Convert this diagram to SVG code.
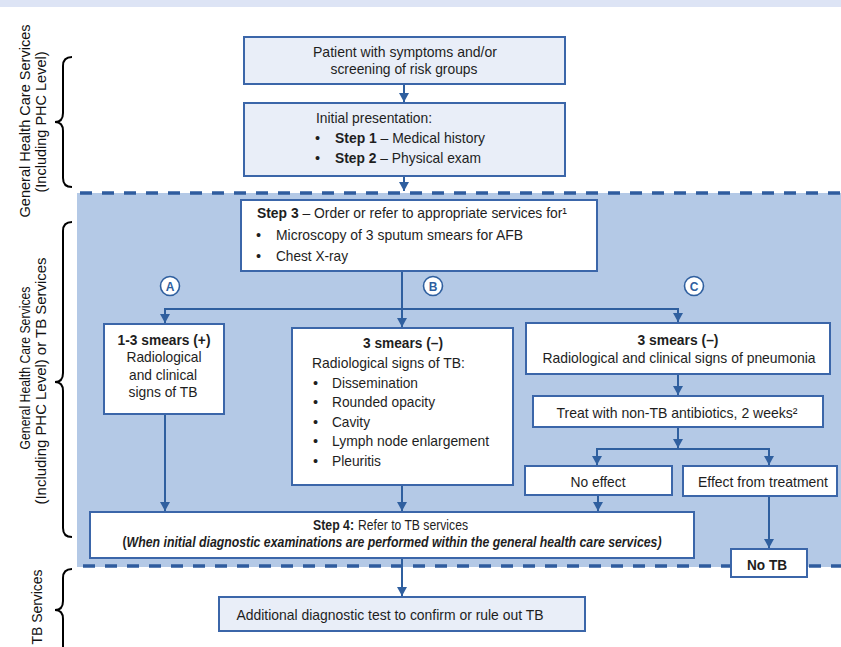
<svg xmlns="http://www.w3.org/2000/svg" width="841" height="647" viewBox="0 0 841 647">
<defs>
<marker id="ah" markerUnits="userSpaceOnUse" markerWidth="12" markerHeight="12" refX="9" refY="5" orient="auto">
<path d="M0,0 L9,5 L0,10 z" fill="#2f5f9f"/>
</marker>
<style>
.box{fill:#ffffff;stroke:#3b66a9;stroke-width:2}
.lbox{fill:#e9eef8;stroke:#3b66a9;stroke-width:2}
.t{font-family:"Liberation Sans Narrow","Liberation Sans",Arial,sans-serif;font-size:14.5px;fill:#1e1e1e}
.c{text-anchor:middle}
.b{font-weight:bold}
.side{font-family:"Liberation Sans",Arial,sans-serif;font-size:14px;fill:#111;text-anchor:middle}
.con{stroke:#2f5f9f;stroke-width:2;fill:none}
.arr{marker-end:url(#ah)}
.dash{stroke:#2f5c9e;stroke-width:3.5;stroke-dasharray:12,10;fill:none}
.brace{stroke:#000;stroke-width:2;fill:none}
.circ{fill:#ffffff;stroke:#2f5f9f;stroke-width:1.6}
.cl{font-family:"Liberation Sans Narrow","Liberation Sans",Arial,sans-serif;font-size:12px;font-weight:bold;fill:#2f5f9f;text-anchor:middle}
</style>
</defs>
<rect width="841" height="647" fill="#ffffff"/>
<rect x="0" y="0" width="841" height="7" fill="#dde4f5"/>
<rect x="77" y="193" width="764" height="374" fill="#b4c9e6"/>
<path class="dash" d="M80,193 L841,193"/>
<path class="dash" d="M83,566 L841,566"/>

<g id="side-labels">
<path class="brace" d="M72,57 Q63,57 63,66 L63,113 Q63,122 55,122 Q63,122 63,131 L63,178 Q63,187 72,187"/>
<text class="side" transform="translate(30,121) rotate(-90)" textLength="193" lengthAdjust="spacingAndGlyphs">General Health Care Services</text>
<text class="side" transform="translate(46,122) rotate(-90)" textLength="141" lengthAdjust="spacingAndGlyphs">(Including PHC Level)</text>
<path class="brace" d="M72,222 Q63,222 63,231 L63,373 Q63,382 55,382 Q63,382 63,391 L63,528 Q63,537 72,537"/>
<text class="side" transform="translate(30,368) rotate(-90)" textLength="163" lengthAdjust="spacingAndGlyphs">General Health Care Services</text>
<text class="side" transform="translate(46,381) rotate(-90)" textLength="247" lengthAdjust="spacingAndGlyphs">(Including  PHC Level)  or TB Services</text>
<path class="brace" d="M72,569 Q63,569 63,578 L63,601 Q63,610 55,610 Q63,610 63,619 L63,660"/>
<text class="side" transform="translate(42,607) rotate(-90)" textLength="75" lengthAdjust="spacingAndGlyphs">TB Services</text>
</g>

<g id="connectors">
<path class="con arr" d="M404,84 L404,102"/>
<path class="con arr" d="M404,176 L404,191"/>
<path class="con arr" d="M402,271 L402,327"/>
<path class="con" d="M164,309 L678,309"/>
<path class="con arr" d="M165,308 L165,323"/>
<path class="con arr" d="M678,308 L678,322"/>
<path class="con arr" d="M165,414 L165,511"/>
<path class="con arr" d="M402,485 L402,511"/>
<path class="con arr" d="M678,374 L678,395"/>
<path class="con arr" d="M678,427 L678,448"/>
<path class="con" d="M597,449 L769,449"/>
<path class="con arr" d="M597,448 L597,465"/>
<path class="con arr" d="M769,448 L769,465"/>
<path class="con arr" d="M598,495 L598,511"/>
<path class="con arr" d="M769,496 L769,548"/>
<path class="con arr" d="M402,558 L402,596"/>
</g>

<g id="labelA"><circle class="circ" cx="170" cy="286" r="9.5"/><text class="cl" x="170" y="290.5">A</text></g>
<g id="labelB"><circle class="circ" cx="433" cy="286" r="9.5"/><text class="cl" x="433" y="290.5">B</text></g>
<g id="labelC"><circle class="circ" cx="694" cy="286" r="9.5"/><text class="cl" x="694" y="290.5">C</text></g>

<g id="patient">
<rect class="lbox" x="244" y="37" width="321" height="47"/>
<text class="t c" x="405" y="57" textLength="184" lengthAdjust="spacingAndGlyphs">Patient with symptoms and/or</text>
<text class="t c" x="404" y="74" textLength="147" lengthAdjust="spacingAndGlyphs">screening of risk groups</text>
</g>

<g id="initial">
<rect class="lbox" x="244" y="103" width="321" height="73"/>
<text class="t" x="316" y="123" textLength="116" lengthAdjust="spacingAndGlyphs">Initial presentation:</text>
<text class="t" x="315" y="143" font-size="10">•</text>
<text class="t" x="335" y="143" textLength="150" lengthAdjust="spacingAndGlyphs"><tspan class="b">Step 1</tspan> – Medical history</text>
<text class="t" x="315" y="163" font-size="10">•</text>
<text class="t" x="335" y="163" textLength="146" lengthAdjust="spacingAndGlyphs"><tspan class="b">Step 2</tspan> – Physical exam</text>
</g>

<g id="step3">
<rect class="box" x="241" y="200" width="356" height="71"/>
<text class="t" x="257" y="218" textLength="310" lengthAdjust="spacingAndGlyphs"><tspan class="b">Step 3</tspan> – Order or refer to appropriate services for¹</text>
<text class="t" x="256" y="240" font-size="10">•</text>
<text class="t" x="276" y="240" textLength="247" lengthAdjust="spacingAndGlyphs">Microscopy of 3 sputum smears for AFB</text>
<text class="t" x="256" y="261" font-size="10">•</text>
<text class="t" x="276" y="261" textLength="72" lengthAdjust="spacingAndGlyphs">Chest X-ray</text>
</g>

<g id="boxA">
<rect class="box" x="104" y="324" width="120" height="90"/>
<text class="t c b" x="164" y="345" textLength="93" lengthAdjust="spacingAndGlyphs">1-3 smears (+)</text>
<text class="t c" x="164" y="362" textLength="75" lengthAdjust="spacingAndGlyphs">Radiological</text>
<text class="t c" x="163" y="380" textLength="68" lengthAdjust="spacingAndGlyphs">and clinical</text>
<text class="t c" x="163" y="397" textLength="69" lengthAdjust="spacingAndGlyphs">signs of TB</text>
</g>

<g id="boxB">
<rect class="box" x="292" y="328" width="221" height="157"/>
<text class="t c b" x="403" y="348" textLength="80" lengthAdjust="spacingAndGlyphs">3 smears (–)</text>
<text class="t" x="312" y="368" textLength="153" lengthAdjust="spacingAndGlyphs">Radiological signs of TB:</text>
<text class="t" x="313" y="388" font-size="10">•</text>
<text class="t" x="332" y="388" textLength="86" lengthAdjust="spacingAndGlyphs">Dissemination</text>
<text class="t" x="313" y="407" font-size="10">•</text>
<text class="t" x="332" y="407" textLength="103" lengthAdjust="spacingAndGlyphs">Rounded opacity</text>
<text class="t" x="313" y="427" font-size="10">•</text>
<text class="t" x="332" y="427" textLength="38" lengthAdjust="spacingAndGlyphs">Cavity</text>
<text class="t" x="313" y="446" font-size="10">•</text>
<text class="t" x="332" y="446" textLength="157" lengthAdjust="spacingAndGlyphs">Lymph node enlargement</text>
<text class="t" x="313" y="466" font-size="10">•</text>
<text class="t" x="332" y="466" textLength="49" lengthAdjust="spacingAndGlyphs">Pleuritis</text>
</g>

<g id="boxC">
<rect class="box" x="526" y="323" width="304" height="51"/>
<text class="t c b" x="678" y="345" textLength="81" lengthAdjust="spacingAndGlyphs">3 smears (–)</text>
<text class="t c" x="679" y="363" textLength="273" lengthAdjust="spacingAndGlyphs">Radiological and clinical signs of pneumonia</text>
</g>

<g id="treat">
<rect class="box" x="533" y="396" width="290" height="31"/>
<text class="t c" x="677" y="418" textLength="241" lengthAdjust="spacingAndGlyphs">Treat with non-TB antibiotics, 2 weeks²</text>
</g>

<g id="noeffect">
<rect class="box" x="525" y="466" width="147" height="29"/>
<text class="t c" x="598" y="487" textLength="55" lengthAdjust="spacingAndGlyphs">No effect</text>
</g>

<g id="effect">
<rect class="box" x="683" y="466" width="154" height="30"/>
<text class="t c" x="763" y="487" textLength="130" lengthAdjust="spacingAndGlyphs">Effect from treatment</text>
</g>

<g id="step4">
<rect class="box" x="90" y="512" width="604" height="46"/>
<text class="t b" x="313" y="530" font-size="12" textLength="41" lengthAdjust="spacingAndGlyphs">Step 4:</text>
<text class="t" x="358" y="530" font-size="12" textLength="110" lengthAdjust="spacingAndGlyphs">Refer to TB services</text>
<text class="t c b" x="392" y="547" font-size="11.5" textLength="539" lengthAdjust="spacingAndGlyphs">(<tspan font-style="italic">When initial diagnostic examinations are performed within the general health care services)</tspan></text>
</g>

<g id="notb">
<rect class="box" x="731" y="549" width="76" height="28"/>
<text class="t c b" x="767" y="570" font-size="15.5" textLength="40" lengthAdjust="spacingAndGlyphs">No TB</text>
</g>

<g id="additional">
<rect class="lbox" x="219" y="597" width="366" height="34"/>
<text class="t c" x="390" y="620" textLength="307" lengthAdjust="spacingAndGlyphs">Additional diagnostic test to confirm or rule out TB</text>
</g>
</svg>
